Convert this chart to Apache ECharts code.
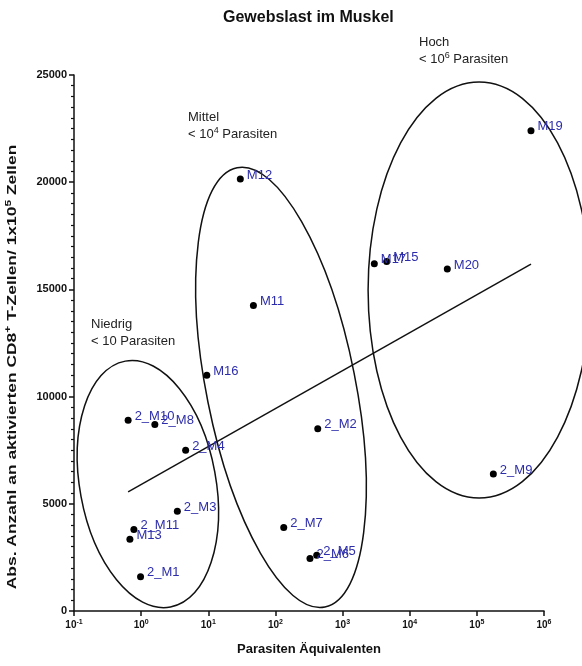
<!DOCTYPE html>
<html>
<head>
<meta charset="utf-8">
<script src="https://cdn.jsdelivr.net/npm/echarts@6/dist/echarts.min.js"></script>
<style>
  html, body { margin: 0; padding: 0; background: #fff; }
  #main { width: 582px; height: 666px; }
</style>
</head>
<body>
<div id="main"></div>
<script>
// Tiere (Labels), Parasiten-Äquivalente (x) und CD8+ Zellen (y)
const names = ['M19', '2_M9', 'M20', 'M17', 'M15', 'M12', 'M11', 'M16', '2_M10', '2_M8',
  '2_M4', '2_M3', '2_M11', 'M13', '2_M1', '2_M2', '2_M7', '2_M6', '2_M5'];
const parasiten = [640000, 176000, 36300, 2970, 4540, 30, 47, 9.5, 0.64, 1.6,
  4.6, 3.46, 0.78, 0.68, 0.98, 427, 133, 327, 412];
const cd8 = [22400, 6390, 15950, 16200, 16300, 20150, 14250, 11000, 8900, 8700,
  7500, 4650, 3800, 3350, 1600, 8500, 3900, 2450, 2600];

// Regressionsgerade (Endpunkte)
const trendX = [0.64, 640000];
const trendY = [5560, 16180];

// Gruppen
const groupNames = ['Niedrig', 'Mittel', 'Hoch'];
const groupLimits = ['< 10 Parasiten', '< 10{sup|4} Parasiten', '< 10{sup|6} Parasiten'];
// Mittelpunkte der Ellipsen (Datenraum)
const ellipseX = [1.26, 121, 108000];
const ellipseY = [5920, 10430, 14970];

const yTicks = [0, 5000, 10000, 15000, 20000, 25000];

const FONT = 'Liberation Sans, Arial, Helvetica, sans-serif';

// Form der Ellipsen in px (rx, ry, Neigung in Grad, oben nach links)
const ellipseShape = [
  { rx: 68, ry: 125, rot: 10.4 },
  { rx: 74.5, ry: 224, rot: 11.3 },
  { rx: 111, ry: 208, rot: 0 }
];
const groupTextPos = [[91, 316], [188, 109], [419, 34]];

let chartDom = document.getElementById('main');
let myChart = echarts.init(chartDom);

let scatterData = names.map(function (n, i) {
  return [parasiten[i], cd8[i], n];
});

let annotations = groupNames.map(function (g, i) {
  return {
    type: 'text',
    left: groupTextPos[i][0],
    top: groupTextPos[i][1],
    silent: true,
    style: {
      text: g + '\n' + groupLimits[i],
      fontFamily: FONT,
      fontSize: 13,
      lineHeight: 17,
      fill: '#222',
      rich: {
        sup: { fontFamily: FONT, fontSize: 9, fill: '#222', lineHeight: 9, verticalAlign: 'top' }
      }
    }
  };
});

// y-Achsentitel (im Original gestreckt)
annotations.push({
  type: 'text',
  x: 12,
  y: 367,
  rotation: Math.PI / 2,
  scaleX: 1.34,
  silent: true,
  style: {
    text: 'Abs. Anzahl an aktivierten CD8{sup|+} T-Zellen/ 1x10{sup|5} Zellen',
    align: 'center',
    verticalAlign: 'middle',
    fontFamily: FONT,
    fontSize: 13,
    fontWeight: 'bold',
    lineHeight: 15,
    fill: '#111',
    rich: {
      sup: { fontFamily: FONT, fontSize: 9, fontWeight: 'bold', fill: '#111', lineHeight: 8, verticalAlign: 'top' }
    }
  }
});

let option = {
  animation: false,
  title: {
    text: 'Gewebslast im Muskel',
    left: 223,
    top: 10,
    padding: 0,
    textStyle: { fontFamily: FONT, fontSize: 16, fontWeight: 'bold', color: '#111' }
  },
  grid: { left: 74, right: 38, top: 75, bottom: 55, outerBoundsMode: 'none' },
  xAxis: {
    type: 'log',
    logBase: 10,
    min: 0.1,
    max: 1000000,
    splitNumber: 7,
    name: 'Parasiten Äquivalenten',
    nameLocation: 'middle',
    nameGap: 32,
    nameTextStyle: { fontFamily: FONT, fontSize: 13, fontWeight: 'bold', color: '#111' },
    axisLine: { lineStyle: { color: '#111', width: 1.5 } },
    axisTick: { length: 5, lineStyle: { color: '#111', width: 1.5 } },
    splitLine: { show: false },
    axisLabel: {
      margin: 8,
      color: '#111',
      formatter: function (v) {
        let e = Math.round(Math.log10(v));
        return '{b|10}{sup|' + e + '}';
      },
      rich: {
        b: { fontFamily: FONT, fontSize: 10, fontWeight: 'bold', color: '#111', lineHeight: 12 },
        sup: { fontFamily: FONT, fontSize: 7, fontWeight: 'bold', color: '#111', lineHeight: 7, verticalAlign: 'top' }
      }
    }
  },
  yAxis: {
    type: 'value',
    min: 0,
    max: 25000,
    interval: 5000,
    axisLine: { show: true, lineStyle: { color: '#111', width: 1.5 } },
    axisTick: { show: true, length: 5, lineStyle: { color: '#111', width: 1.5 } },
    minorTick: { show: true, splitNumber: 10, length: 3, lineStyle: { color: '#111', width: 1.2 } },
    splitLine: { show: false },
    axisLabel: {
      margin: 7,
      fontFamily: FONT, fontSize: 11, fontWeight: 'bold', color: '#111',
      formatter: function (v) { return yTicks.indexOf(v) >= 0 ? String(v) : ''; }
    }
  },
  series: [
    {
      name: 'Ellipsen',
      type: 'custom',
      silent: true,
      clip: false,
      z: 1,
      data: ellipseX.map(function (x, i) { return [x, ellipseY[i], i]; }),
      renderItem: function (params, api) {
        let c = api.coord([api.value(0), api.value(1)]);
        let s = ellipseShape[api.value(2)];
        return {
          type: 'ellipse',
          x: c[0],
          y: c[1],
          rotation: s.rot * Math.PI / 180,
          shape: { cx: 0, cy: 0, rx: s.rx, ry: s.ry },
          style: { fill: 'none', stroke: '#111', lineWidth: 1.5 }
        };
      }
    },
    {
      name: 'Trend',
      type: 'line',
      data: trendX.map(function (x, i) { return [x, trendY[i]]; }),
      showSymbol: false,
      symbol: 'none',
      lineStyle: { color: '#111', width: 1.5 },
      silent: true,
      z: 2
    },
    {
      name: 'Tiere',
      type: 'scatter',
      data: scatterData,
      symbolSize: 7,
      itemStyle: { color: '#000', opacity: 1 },
      z: 3,
      label: {
        show: true,
        position: 'right',
        distance: 3,
        offset: [0, -4],
        fontFamily: FONT,
        fontSize: 13,
        color: '#2d2dab',
        formatter: function (p) { return p.data[2]; }
      }
    }
  ],
  graphic: annotations
};

myChart.setOption(option);
window.addEventListener('resize', () => {
  myChart.resize();
});
</script>
</body>
</html>
